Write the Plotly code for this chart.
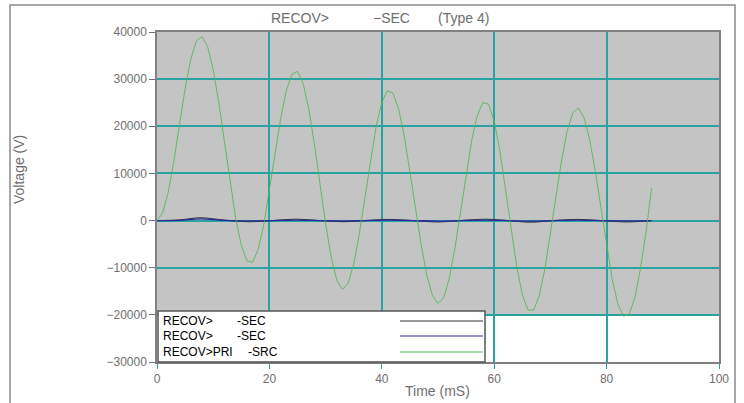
import plotly.graph_objects as go

# ---------------- data ----------------
time_green = list(range(0, 89))
volt_green = [0, 1600, 6010, 12620, 20340, 27930, 34180, 38090, 39040, 36920,
              32040, 25010, 16720, 8210, 555, -5270, -8550, -8855, -6160, -870,
              6250, 14120, 21580, 27520, 31050, 31650, 29110, 23740, 16265, 7730,
              -680, -7810, -12665, -14585, -13350, -9240, -2830, 4930, 12930, 20010,
              25130, 27560, 27000, 23655, 17970, 10650, 2630, -5090, -11530, -15875,
              -17585, -16370, -12290, -5920, 1825, 9860, 17040, 22360, 25055, 24700,
              21130, 14870, 6830, -1780, -9690, -15725, -18980, -19015, -16000, -10410,
              -3025, 5110, 12840, 19070, 22920, 23840, 21800, 17100, 10380, 2510,
              -5470, -12500, -17660, -20265, -19915, -16460, -10395, -2610, 6800]

time_small = [0, 4, 7.8, 12, 16.6, 20.5, 24.7, 29, 33.1, 37, 41.3, 45.5, 50.1,
              54, 58.4, 62.5, 66.5, 70.5, 74.8, 79, 83.4, 88]
volt_black = [0, 150, 600, 100, -250, 0, 300, 0, -250, 0, 250, 0, -300,
              0, 300, 0, -350, 0, 250, 0, -300, 0]
volt_blue = [0, 60, 350, 40, -80, 0, 80, 0, -80, 0, 80, 0, -100,
             0, 80, 0, -100, 0, 80, 0, -80, 0]

legend_names = [["RECOV>", "-SEC"], ["RECOV>", "-SEC"], ["RECOV>PRI", "-SRC"]]
series_colors = ["#333333", "#2b2b9c", "rgb(80,185,80)"]

x_ticks = [0, 20, 40, 60, 80, 100]
y_ticks = [-30000, -20000, -10000, 0, 10000, 20000, 30000, 40000]

# ---------------- layout helpers ----------------
W, H = 744, 403
L, R, T, B = 157, 25, 32, 41
PW, PH = W - L - R, H - T - B


def px(x):
    return (x - L) / PW


def py(y):
    return (H - B - y) / PH


TEAL = "#2aa2a2"
FONT = "Liberation Sans, Arial, sans-serif"
GREY_TXT = "#6e6e6e"

fig = go.Figure()
fig.add_trace(go.Scatter(x=time_small, y=volt_black, mode="lines", line_shape="spline",
                         line=dict(color=series_colors[0], width=1), showlegend=False))
fig.add_trace(go.Scatter(x=time_small, y=volt_blue, mode="lines", line_shape="spline",
                         line=dict(color=series_colors[1], width=1.3), showlegend=False))
fig.add_trace(go.Scatter(x=time_green, y=volt_green, mode="lines",
                         line=dict(color=series_colors[2], width=1), opacity=0.85,
                         showlegend=False))

shapes = [
    # grey plotting region
    dict(type="rect", xref="x", yref="y", x0=0, x1=100, y0=-20000, y1=40000,
         fillcolor="#c4c4c4", line=dict(width=0), layer="below"),
    # outer frame
    dict(type="rect", xref="paper", yref="paper", x0=px(10), x1=px(735), y0=py(410), y1=py(5),
         line=dict(color="#8a8a8a", width=1.5), fillcolor="rgba(0,0,0,0)"),
    # legend box
    dict(type="rect", xref="paper", yref="paper", x0=px(158), x1=px(485), y0=py(362), y1=py(311),
         fillcolor="white", line=dict(color="#555555", width=1.5)),
]
row_y = [321, 336, 352]
annotations = []
for (n1, n2), c, yy in zip(legend_names, series_colors, row_y):
    shapes.append(dict(type="line", xref="paper", yref="paper", x0=px(400), x1=px(483),
                       y0=py(yy), y1=py(yy), line=dict(color=c, width=1.2)))
    annotations.append(dict(text=n1, xref="paper", yref="paper", x=px(161), y=py(yy),
                            xanchor="left", yanchor="middle", showarrow=False,
                            font=dict(family="Liberation Sans, Arial", size=12, color="black")))
    annotations.append(dict(text=n2, xref="paper", yref="paper",
                            x=px(246 if n1.endswith("PRI") else 235), y=py(yy),
                            xanchor="left", yanchor="middle", showarrow=False,
                            font=dict(family="Liberation Sans, Arial", size=12, color="black")))

# title pieces
for txt, cx in [("RECOV>", 300), ("\u2212SEC", 391), ("(Type 4)", 463)]:
    annotations.append(dict(text=txt, xref="paper", yref="paper", x=px(cx), y=py(18),
                            xanchor="center", yanchor="middle", showarrow=False,
                            font=dict(family=FONT, size=14, color=GREY_TXT)))
# axis titles
annotations.append(dict(text="Voltage (V)", xref="paper", yref="paper", x=px(19), y=py(170),
                        xanchor="center", yanchor="middle", showarrow=False, textangle=-90,
                        font=dict(family=FONT, size=14, color=GREY_TXT)))
annotations.append(dict(text="Time (mS)", xref="paper", yref="paper", x=px(437), y=py(391),
                        xanchor="center", yanchor="middle", showarrow=False,
                        font=dict(family=FONT, size=14, color=GREY_TXT)))

fig.update_layout(
    width=W, height=H,
    margin=dict(l=L, r=R, t=T, b=B, autoexpand=False),
    paper_bgcolor="white", plot_bgcolor="white",
    shapes=shapes, annotations=annotations, showlegend=False,
    xaxis=dict(range=[0, 100], tickvals=x_ticks, ticktext=[str(v) for v in x_ticks],
               showgrid=True, gridcolor=TEAL, gridwidth=1.5, zeroline=False,
               showline=True, linecolor="#808080", linewidth=1.5, mirror=True,
               ticks="outside", ticklen=5, tickcolor=TEAL,
               tickfont=dict(family=FONT, size=12, color=GREY_TXT)),
    yaxis=dict(range=[-30000, 40000], tickvals=y_ticks,
               ticktext=[str(v).replace("-", "\u2212") for v in y_ticks],
               showgrid=True, gridcolor=TEAL, gridwidth=1.5, zeroline=False,
               showline=True, linecolor="#808080", linewidth=1.5, mirror=True,
               ticks="outside", ticklen=6, tickcolor="#707070",
               tickfont=dict(family=FONT, size=12, color=GREY_TXT)),
)

fig.write_html("out.html", config={"displayModeBar": False},
               post_script="document.body.style.margin='0';document.body.style.overflow='hidden';")
